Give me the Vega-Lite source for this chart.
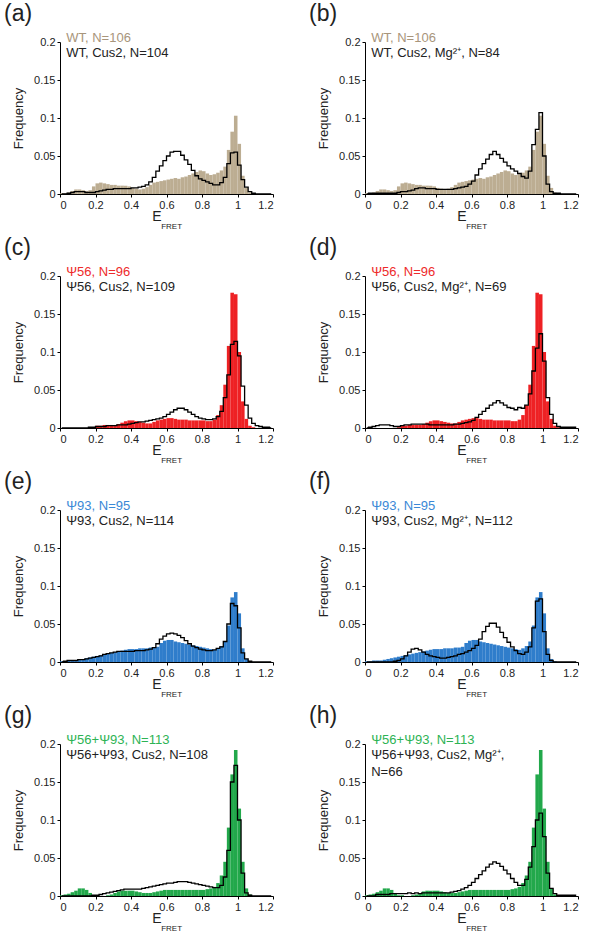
{
"$schema":"https://vega.github.io/schema/vega-lite/v6.json",
"padding":{"left":4,"top":3,"right":0,"bottom":0},
"spacing":{"row":6,"column":35},
"columns":2,
"datasets":{"h":[
{"lo":0,"hi":0.02,"c":0.01,"wt":0.001,"wtc":0,"wtm":0,"p56":0,"p56c":0,"p56m":0,"p93":0.001,"p93c":0,"p93m":0,"pp":0.001,"ppc":0,"ppm":0},
{"lo":0.02,"hi":0.04,"c":0.03,"wt":0.001,"wtc":0,"wtm":0.001,"p56":0,"p56c":0,"p56m":0.001,"p93":0.001,"p93c":0.001,"p93m":0,"pp":0.002,"ppc":0,"ppm":0},
{"lo":0.04,"hi":0.06,"c":0.05,"wt":0.002,"wtc":0.001,"wtm":0.001,"p56":0,"p56c":0,"p56m":0.002,"p93":0.002,"p93c":0.002,"p93m":0,"pp":0.003,"ppc":0,"ppm":0},
{"lo":0.06,"hi":0.08,"c":0.07,"wt":0.004,"wtc":0.002,"wtm":0.001,"p56":0,"p56c":0,"p56m":0.003,"p93":0.002,"p93c":0.002,"p93m":0,"pp":0.005,"ppc":0,"ppm":0.002},
{"lo":0.08,"hi":0.1,"c":0.09,"wt":0.006,"wtc":0.003,"wtm":0.001,"p56":0,"p56c":0,"p56m":0.004,"p93":0.002,"p93c":0.002,"p93m":0,"pp":0.007,"ppc":0,"ppm":0.002},
{"lo":0.1,"hi":0.12,"c":0.11,"wt":0.006,"wtc":0.003,"wtm":0.001,"p56":0,"p56c":0,"p56m":0.004,"p93":0.003,"p93c":0.003,"p93m":0,"pp":0.01,"ppc":0,"ppm":0.002},
{"lo":0.12,"hi":0.14,"c":0.13,"wt":0.005,"wtc":0.003,"wtm":0.001,"p56":0,"p56c":0,"p56m":0.004,"p93":0.004,"p93c":0.003,"p93m":0,"pp":0.01,"ppc":0,"ppm":0.002},
{"lo":0.14,"hi":0.16,"c":0.15,"wt":0.004,"wtc":0.002,"wtm":0.001,"p56":0,"p56c":0,"p56m":0.003,"p93":0.005,"p93c":0.004,"p93m":0,"pp":0.008,"ppc":0,"ppm":0.003},
{"lo":0.16,"hi":0.18,"c":0.17,"wt":0.005,"wtc":0.002,"wtm":0.001,"p56":0,"p56c":0.001,"p56m":0.002,"p93":0.006,"p93c":0.005,"p93m":0.001,"pp":0.004,"ppc":0,"ppm":0.003},
{"lo":0.18,"hi":0.2,"c":0.19,"wt":0.01,"wtc":0.002,"wtm":0.002,"p56":0.001,"p56c":0.001,"p56m":0.002,"p93":0.007,"p93c":0.006,"p93m":0.002,"pp":0.001,"ppc":0.001,"ppm":0.003},
{"lo":0.2,"hi":0.22,"c":0.21,"wt":0.014,"wtc":0.003,"wtm":0.003,"p56":0.003,"p56c":0.002,"p56m":0.003,"p93":0.008,"p93c":0.007,"p93m":0.004,"pp":0.001,"ppc":0.001,"ppm":0.003},
{"lo":0.22,"hi":0.24,"c":0.23,"wt":0.015,"wtc":0.004,"wtm":0.003,"p56":0.003,"p56c":0.002,"p56m":0.004,"p93":0.009,"p93c":0.008,"p93m":0.008,"pp":0,"ppc":0.002,"ppm":0.003},
{"lo":0.24,"hi":0.26,"c":0.25,"wt":0.014,"wtc":0.005,"wtm":0.004,"p56":0.004,"p56c":0.002,"p56m":0.004,"p93":0.01,"p93c":0.01,"p93m":0.013,"pp":0,"ppc":0.003,"ppm":0.004},
{"lo":0.26,"hi":0.28,"c":0.27,"wt":0.013,"wtc":0.006,"wtm":0.005,"p56":0.004,"p56c":0.003,"p56m":0.005,"p93":0.011,"p93c":0.011,"p93m":0.017,"pp":0.001,"ppc":0.004,"ppm":0.003},
{"lo":0.28,"hi":0.3,"c":0.29,"wt":0.012,"wtc":0.006,"wtm":0.007,"p56":0.004,"p56c":0.003,"p56m":0.005,"p93":0.012,"p93c":0.012,"p93m":0.018,"pp":0.002,"ppc":0.005,"ppm":0.004},
{"lo":0.3,"hi":0.32,"c":0.31,"wt":0.012,"wtc":0.007,"wtm":0.008,"p56":0.004,"p56c":0.003,"p56m":0.005,"p93":0.013,"p93c":0.013,"p93m":0.016,"pp":0.004,"ppc":0.006,"ppm":0.003},
{"lo":0.32,"hi":0.34,"c":0.33,"wt":0.011,"wtc":0.007,"wtm":0.008,"p56":0.005,"p56c":0.004,"p56m":0.005,"p93":0.014,"p93c":0.014,"p93m":0.013,"pp":0.006,"ppc":0.007,"ppm":0.004},
{"lo":0.34,"hi":0.36,"c":0.35,"wt":0.011,"wtc":0.007,"wtm":0.007,"p56":0.007,"p56c":0.004,"p56m":0.005,"p93":0.015,"p93c":0.014,"p93m":0.01,"pp":0.007,"ppc":0.008,"ppm":0.004},
{"lo":0.36,"hi":0.38,"c":0.37,"wt":0.011,"wtc":0.007,"wtm":0.007,"p56":0.009,"p56c":0.004,"p56m":0.004,"p93":0.016,"p93c":0.014,"p93m":0.008,"pp":0.007,"ppc":0.009,"ppm":0.004},
{"lo":0.38,"hi":0.4,"c":0.39,"wt":0.01,"wtc":0.007,"wtm":0.007,"p56":0.01,"p56c":0.005,"p56m":0.004,"p93":0.017,"p93c":0.014,"p93m":0.007,"pp":0.007,"ppc":0.009,"ppm":0.004},
{"lo":0.4,"hi":0.42,"c":0.41,"wt":0.008,"wtc":0.008,"wtm":0.006,"p56":0.01,"p56c":0.006,"p56m":0.004,"p93":0.017,"p93c":0.014,"p93m":0.006,"pp":0.007,"ppc":0.009,"ppm":0.004},
{"lo":0.42,"hi":0.44,"c":0.43,"wt":0.007,"wtc":0.008,"wtm":0.006,"p56":0.009,"p56c":0.007,"p56m":0.004,"p93":0.017,"p93c":0.015,"p93m":0.005,"pp":0.006,"ppc":0.009,"ppm":0.004},
{"lo":0.44,"hi":0.46,"c":0.45,"wt":0.006,"wtc":0.009,"wtm":0.006,"p56":0.008,"p56c":0.008,"p56m":0.004,"p93":0.018,"p93c":0.015,"p93m":0.005,"pp":0.005,"ppc":0.009,"ppm":0.004},
{"lo":0.46,"hi":0.48,"c":0.47,"wt":0.007,"wtc":0.01,"wtm":0.006,"p56":0.007,"p56c":0.008,"p56m":0.004,"p93":0.018,"p93c":0.015,"p93m":0.006,"pp":0.004,"ppc":0.01,"ppm":0.004},
{"lo":0.48,"hi":0.5,"c":0.49,"wt":0.009,"wtc":0.012,"wtm":0.006,"p56":0.006,"p56c":0.009,"p56m":0.004,"p93":0.018,"p93c":0.016,"p93m":0.007,"pp":0.004,"ppc":0.011,"ppm":0.005},
{"lo":0.5,"hi":0.52,"c":0.51,"wt":0.012,"wtc":0.016,"wtm":0.007,"p56":0.006,"p56c":0.01,"p56m":0.005,"p93":0.019,"p93c":0.017,"p93m":0.008,"pp":0.004,"ppc":0.012,"ppm":0.006},
{"lo":0.52,"hi":0.54,"c":0.53,"wt":0.015,"wtc":0.022,"wtm":0.008,"p56":0.008,"p56c":0.011,"p56m":0.005,"p93":0.019,"p93c":0.019,"p93m":0.01,"pp":0.005,"ppc":0.013,"ppm":0.007},
{"lo":0.54,"hi":0.56,"c":0.55,"wt":0.016,"wtc":0.03,"wtm":0.009,"p56":0.01,"p56c":0.012,"p56m":0.006,"p93":0.02,"p93c":0.024,"p93m":0.011,"pp":0.006,"ppc":0.014,"ppm":0.009},
{"lo":0.56,"hi":0.58,"c":0.57,"wt":0.017,"wtc":0.037,"wtm":0.01,"p56":0.011,"p56c":0.013,"p56m":0.007,"p93":0.025,"p93c":0.03,"p93m":0.013,"pp":0.007,"ppc":0.015,"ppm":0.011},
{"lo":0.58,"hi":0.6,"c":0.59,"wt":0.018,"wtc":0.044,"wtm":0.013,"p56":0.012,"p56c":0.015,"p56m":0.008,"p93":0.028,"p93c":0.034,"p93m":0.015,"pp":0.008,"ppc":0.016,"ppm":0.014},
{"lo":0.6,"hi":0.62,"c":0.61,"wt":0.019,"wtc":0.05,"wtm":0.017,"p56":0.013,"p56c":0.018,"p56m":0.01,"p93":0.029,"p93c":0.037,"p93m":0.018,"pp":0.008,"ppc":0.017,"ppm":0.018},
{"lo":0.62,"hi":0.64,"c":0.63,"wt":0.02,"wtc":0.055,"wtm":0.025,"p56":0.013,"p56c":0.021,"p56m":0.014,"p93":0.029,"p93c":0.038,"p93m":0.022,"pp":0.008,"ppc":0.017,"ppm":0.023},
{"lo":0.64,"hi":0.66,"c":0.65,"wt":0.021,"wtc":0.056,"wtm":0.033,"p56":0.012,"p56c":0.024,"p56m":0.018,"p93":0.027,"p93c":0.037,"p93m":0.03,"pp":0.008,"ppc":0.018,"ppm":0.028},
{"lo":0.66,"hi":0.68,"c":0.67,"wt":0.02,"wtc":0.056,"wtm":0.04,"p56":0.011,"p56c":0.026,"p56m":0.022,"p93":0.026,"p93c":0.035,"p93m":0.04,"pp":0.008,"ppc":0.019,"ppm":0.033},
{"lo":0.68,"hi":0.7,"c":0.69,"wt":0.022,"wtc":0.051,"wtm":0.046,"p56":0.011,"p56c":0.026,"p56m":0.026,"p93":0.025,"p93c":0.032,"p93m":0.047,"pp":0.008,"ppc":0.019,"ppm":0.038},
{"lo":0.7,"hi":0.72,"c":0.71,"wt":0.023,"wtc":0.045,"wtm":0.052,"p56":0.011,"p56c":0.024,"p56m":0.03,"p93":0.024,"p93c":0.028,"p93m":0.051,"pp":0.008,"ppc":0.019,"ppm":0.042},
{"lo":0.72,"hi":0.74,"c":0.73,"wt":0.025,"wtc":0.039,"wtm":0.056,"p56":0.01,"p56c":0.021,"p56m":0.033,"p93":0.023,"p93c":0.024,"p93m":0.051,"pp":0.008,"ppc":0.018,"ppm":0.045},
{"lo":0.74,"hi":0.76,"c":0.75,"wt":0.027,"wtc":0.031,"wtm":0.052,"p56":0.01,"p56c":0.018,"p56m":0.036,"p93":0.022,"p93c":0.021,"p93m":0.046,"pp":0.008,"ppc":0.017,"ppm":0.043},
{"lo":0.76,"hi":0.78,"c":0.77,"wt":0.029,"wtc":0.024,"wtm":0.047,"p56":0.01,"p56c":0.015,"p56m":0.033,"p93":0.021,"p93c":0.019,"p93m":0.039,"pp":0.008,"ppc":0.016,"ppm":0.039},
{"lo":0.78,"hi":0.8,"c":0.79,"wt":0.031,"wtc":0.02,"wtm":0.042,"p56":0.01,"p56c":0.013,"p56m":0.03,"p93":0.02,"p93c":0.017,"p93m":0.032,"pp":0.008,"ppc":0.015,"ppm":0.034},
{"lo":0.8,"hi":0.82,"c":0.81,"wt":0.03,"wtc":0.018,"wtm":0.037,"p56":0.01,"p56c":0.012,"p56m":0.027,"p93":0.019,"p93c":0.016,"p93m":0.026,"pp":0.008,"ppc":0.014,"ppm":0.029},
{"lo":0.82,"hi":0.84,"c":0.83,"wt":0.027,"wtc":0.016,"wtm":0.033,"p56":0.009,"p56c":0.011,"p56m":0.026,"p93":0.018,"p93c":0.015,"p93m":0.02,"pp":0.009,"ppc":0.013,"ppm":0.023},
{"lo":0.84,"hi":0.86,"c":0.85,"wt":0.025,"wtc":0.014,"wtm":0.03,"p56":0.009,"p56c":0.011,"p56m":0.024,"p93":0.017,"p93c":0.015,"p93m":0.015,"pp":0.01,"ppc":0.012,"ppm":0.018},
{"lo":0.86,"hi":0.88,"c":0.87,"wt":0.026,"wtc":0.012,"wtm":0.027,"p56":0.011,"p56c":0.012,"p56m":0.027,"p93":0.016,"p93c":0.016,"p93m":0.011,"pp":0.012,"ppc":0.011,"ppm":0.014},
{"lo":0.88,"hi":0.9,"c":0.89,"wt":0.028,"wtc":0.012,"wtm":0.023,"p56":0.017,"p56c":0.015,"p56m":0.026,"p93":0.018,"p93c":0.018,"p93m":0.01,"pp":0.017,"ppc":0.011,"ppm":0.014},
{"lo":0.9,"hi":0.92,"c":0.91,"wt":0.031,"wtc":0.015,"wtm":0.021,"p56":0.03,"p56c":0.022,"p56m":0.03,"p93":0.021,"p93c":0.02,"p93m":0.013,"pp":0.027,"ppc":0.014,"ppm":0.022},
{"lo":0.92,"hi":0.94,"c":0.93,"wt":0.036,"wtc":0.022,"wtm":0.03,"p56":0.057,"p56c":0.04,"p56m":0.045,"p93":0.027,"p93c":0.027,"p93m":0.02,"pp":0.045,"ppc":0.025,"ppm":0.038},
{"lo":0.94,"hi":0.96,"c":0.95,"wt":0.058,"wtc":0.04,"wtm":0.065,"p56":0.108,"p56c":0.07,"p56m":0.075,"p93":0.048,"p93c":0.05,"p93m":0.045,"pp":0.09,"ppc":0.06,"ppm":0.065},
{"lo":0.96,"hi":0.98,"c":0.97,"wt":0.082,"wtc":0.054,"wtm":0.085,"p56":0.178,"p56c":0.11,"p56m":0.105,"p93":0.085,"p93c":0.077,"p93m":0.08,"pp":0.16,"ppc":0.15,"ppm":0.1},
{"lo":0.98,"hi":1,"c":0.99,"wt":0.103,"wtc":0.055,"wtm":0.107,"p56":0.176,"p56c":0.114,"p56m":0.124,"p93":0.092,"p93c":0.074,"p93m":0.083,"pp":0.192,"ppc":0.172,"ppm":0.109},
{"lo":1,"hi":1.02,"c":1.01,"wt":0.066,"wtc":0.038,"wtm":0.05,"p56":0.1,"p56c":0.095,"p56m":0.088,"p93":0.064,"p93c":0.045,"p93m":0.04,"pp":0.115,"ppc":0.1,"ppm":0.078},
{"lo":1.02,"hi":1.04,"c":1.03,"wt":0.024,"wtc":0.019,"wtm":0.013,"p56":0.035,"p56c":0.055,"p56m":0.04,"p93":0.018,"p93c":0.012,"p93m":0.01,"pp":0.045,"ppc":0.03,"ppm":0.03},
{"lo":1.04,"hi":1.06,"c":1.05,"wt":0.008,"wtc":0.009,"wtm":0.003,"p56":0.012,"p56c":0.03,"p56m":0.018,"p93":0.004,"p93c":0.004,"p93m":0.002,"pp":0.01,"ppc":0.004,"ppm":0.01},
{"lo":1.06,"hi":1.08,"c":1.07,"wt":0.002,"wtc":0.003,"wtm":0.001,"p56":0.003,"p56c":0.013,"p56m":0.006,"p93":0.001,"p93c":0.001,"p93m":0,"pp":0.002,"ppc":0.001,"ppm":0.003},
{"lo":1.08,"hi":1.1,"c":1.09,"wt":0.001,"wtc":0.001,"wtm":0.001,"p56":0.001,"p56c":0.006,"p56m":0.002,"p93":0,"p93c":0,"p93m":0,"pp":0,"ppc":0,"ppm":0.001},
{"lo":1.1,"hi":1.12,"c":1.11,"wt":0,"wtc":0,"wtm":0,"p56":0,"p56c":0.003,"p56m":0.001,"p93":0,"p93c":0,"p93m":0,"pp":0,"ppc":0,"ppm":0.001},
{"lo":1.12,"hi":1.14,"c":1.13,"wt":0,"wtc":0,"wtm":0,"p56":0,"p56c":0.002,"p56m":0.001,"p93":0,"p93c":0,"p93m":0,"pp":0,"ppc":0,"ppm":0.001},
{"lo":1.14,"hi":1.16,"c":1.15,"wt":0,"wtc":0,"wtm":0,"p56":0,"p56c":0.001,"p56m":0.001,"p93":0,"p93c":0,"p93m":0,"pp":0,"ppc":0,"ppm":0.001},
{"lo":1.16,"hi":1.18,"c":1.17,"wt":0,"wtc":0,"wtm":0,"p56":0,"p56c":0.001,"p56m":0.001,"p93":0,"p93c":0,"p93m":0,"pp":0,"ppc":0,"ppm":0.001},
{"lo":1.18,"hi":1.2,"c":1.19,"wt":0,"wtc":0,"wtm":0,"p56":0,"p56c":0,"p56m":0.001,"p93":0,"p93c":0,"p93m":0,"pp":0,"ppc":0,"ppm":0.001}
]},
"concat":[
{"title":"(a)","width":213,"height":152,"layer":[
 {"data":{"name":"h"},"mark":{"type":"bar","color":"#bcad92"},"encoding":{"x":{"field":"lo","type":"quantitative","title":null,"scale":{"domain":[0,1.2],"nice":false},"axis":{"values":[0,0.2,0.4,0.6,0.8,1,1.2],"format":"~g","labelOverlap":false,"tickCount":7}},"x2":{"field":"hi"},"y":{"field":"wt","type":"quantitative","title":"Frequency","scale":{"domain":[0,0.2],"nice":false},"axis":{"values":[0,0.05,0.1,0.15,0.2],"format":"~g","labelOverlap":false,"tickCount":5}},"y2":{"datum":0}}},
 {"data":{"name":"h"},"mark":{"type":"line","color":"#000","strokeWidth":1.3,"interpolate":"step"},"encoding":{"x":{"field":"c","type":"quantitative","title":null},"y":{"field":"wtc","type":"quantitative","title":"Frequency"}}},
 {"data":{"values":[{"t":"WT, N=106"}]},"mark":{"type":"text","color":"#a8957b"},"encoding":{"x":{"datum":0.035},"y":{"datum":0.2},"text":{"field":"t"}}},
 {"data":{"values":[{"t":"WT, Cus2, N=104"}]},"mark":{"type":"text"},"encoding":{"x":{"datum":0.035},"y":{"datum":0.18},"text":{"field":"t"}}},
 {"data":{"values":[{"t":"E"}]},"mark":{"type":"text","fontSize":14,"align":"center"},"encoding":{"x":{"datum":0.546},"y":{"datum":-0.035},"text":{"field":"t"}}},
 {"data":{"values":[{"t":"FRET"}]},"mark":{"type":"text","fontSize":8},"encoding":{"x":{"datum":0.57},"y":{"datum":-0.046},"text":{"field":"t"}}}
]},
{"title":"(b)","width":213,"height":152,"layer":[
 {"data":{"name":"h"},"mark":{"type":"bar","color":"#bcad92"},"encoding":{"x":{"field":"lo","type":"quantitative","title":null,"scale":{"domain":[0,1.2],"nice":false},"axis":{"values":[0,0.2,0.4,0.6,0.8,1,1.2],"format":"~g","labelOverlap":false,"tickCount":7}},"x2":{"field":"hi"},"y":{"field":"wt","type":"quantitative","title":"Frequency","scale":{"domain":[0,0.2],"nice":false},"axis":{"values":[0,0.05,0.1,0.15,0.2],"format":"~g","labelOverlap":false,"tickCount":5}},"y2":{"datum":0}}},
 {"data":{"name":"h"},"mark":{"type":"line","color":"#000","strokeWidth":1.3,"interpolate":"step"},"encoding":{"x":{"field":"c","type":"quantitative","title":null},"y":{"field":"wtm","type":"quantitative","title":"Frequency"}}},
 {"data":{"values":[{"t":"WT, N=106"}]},"mark":{"type":"text","color":"#a8957b"},"encoding":{"x":{"datum":0.035},"y":{"datum":0.2},"text":{"field":"t"}}},
 {"data":{"values":[{"t":"WT, Cus2, Mg²⁺, N=84"}]},"mark":{"type":"text"},"encoding":{"x":{"datum":0.035},"y":{"datum":0.18},"text":{"field":"t"}}},
 {"data":{"values":[{"t":"E"}]},"mark":{"type":"text","fontSize":14,"align":"center"},"encoding":{"x":{"datum":0.546},"y":{"datum":-0.035},"text":{"field":"t"}}},
 {"data":{"values":[{"t":"FRET"}]},"mark":{"type":"text","fontSize":8},"encoding":{"x":{"datum":0.57},"y":{"datum":-0.046},"text":{"field":"t"}}}
]},
{"title":"(c)","width":213,"height":152,"layer":[
 {"data":{"name":"h"},"mark":{"type":"bar","color":"#ee2124"},"encoding":{"x":{"field":"lo","type":"quantitative","title":null,"scale":{"domain":[0,1.2],"nice":false},"axis":{"values":[0,0.2,0.4,0.6,0.8,1,1.2],"format":"~g","labelOverlap":false,"tickCount":7}},"x2":{"field":"hi"},"y":{"field":"p56","type":"quantitative","title":"Frequency","scale":{"domain":[0,0.2],"nice":false},"axis":{"values":[0,0.05,0.1,0.15,0.2],"format":"~g","labelOverlap":false,"tickCount":5}},"y2":{"datum":0}}},
 {"data":{"name":"h"},"mark":{"type":"line","color":"#000","strokeWidth":1.3,"interpolate":"step"},"encoding":{"x":{"field":"c","type":"quantitative","title":null},"y":{"field":"p56c","type":"quantitative","title":"Frequency"}}},
 {"data":{"values":[{"t":"Ψ56, N=96"}]},"mark":{"type":"text","color":"#ee2a2a"},"encoding":{"x":{"datum":0.035},"y":{"datum":0.2},"text":{"field":"t"}}},
 {"data":{"values":[{"t":"Ψ56, Cus2, N=109"}]},"mark":{"type":"text"},"encoding":{"x":{"datum":0.035},"y":{"datum":0.18},"text":{"field":"t"}}},
 {"data":{"values":[{"t":"E"}]},"mark":{"type":"text","fontSize":14,"align":"center"},"encoding":{"x":{"datum":0.546},"y":{"datum":-0.035},"text":{"field":"t"}}},
 {"data":{"values":[{"t":"FRET"}]},"mark":{"type":"text","fontSize":8},"encoding":{"x":{"datum":0.57},"y":{"datum":-0.046},"text":{"field":"t"}}}
]},
{"title":"(d)","width":213,"height":152,"layer":[
 {"data":{"name":"h"},"mark":{"type":"bar","color":"#ee2124"},"encoding":{"x":{"field":"lo","type":"quantitative","title":null,"scale":{"domain":[0,1.2],"nice":false},"axis":{"values":[0,0.2,0.4,0.6,0.8,1,1.2],"format":"~g","labelOverlap":false,"tickCount":7}},"x2":{"field":"hi"},"y":{"field":"p56","type":"quantitative","title":"Frequency","scale":{"domain":[0,0.2],"nice":false},"axis":{"values":[0,0.05,0.1,0.15,0.2],"format":"~g","labelOverlap":false,"tickCount":5}},"y2":{"datum":0}}},
 {"data":{"name":"h"},"mark":{"type":"line","color":"#000","strokeWidth":1.3,"interpolate":"step"},"encoding":{"x":{"field":"c","type":"quantitative","title":null},"y":{"field":"p56m","type":"quantitative","title":"Frequency"}}},
 {"data":{"values":[{"t":"Ψ56, N=96"}]},"mark":{"type":"text","color":"#ee2a2a"},"encoding":{"x":{"datum":0.035},"y":{"datum":0.2},"text":{"field":"t"}}},
 {"data":{"values":[{"t":"Ψ56, Cus2, Mg²⁺, N=69"}]},"mark":{"type":"text"},"encoding":{"x":{"datum":0.035},"y":{"datum":0.18},"text":{"field":"t"}}},
 {"data":{"values":[{"t":"E"}]},"mark":{"type":"text","fontSize":14,"align":"center"},"encoding":{"x":{"datum":0.546},"y":{"datum":-0.035},"text":{"field":"t"}}},
 {"data":{"values":[{"t":"FRET"}]},"mark":{"type":"text","fontSize":8},"encoding":{"x":{"datum":0.57},"y":{"datum":-0.046},"text":{"field":"t"}}}
]},
{"title":"(e)","width":213,"height":152,"layer":[
 {"data":{"name":"h"},"mark":{"type":"bar","color":"#2f7dcb"},"encoding":{"x":{"field":"lo","type":"quantitative","title":null,"scale":{"domain":[0,1.2],"nice":false},"axis":{"values":[0,0.2,0.4,0.6,0.8,1,1.2],"format":"~g","labelOverlap":false,"tickCount":7}},"x2":{"field":"hi"},"y":{"field":"p93","type":"quantitative","title":"Frequency","scale":{"domain":[0,0.2],"nice":false},"axis":{"values":[0,0.05,0.1,0.15,0.2],"format":"~g","labelOverlap":false,"tickCount":5}},"y2":{"datum":0}}},
 {"data":{"name":"h"},"mark":{"type":"line","color":"#000","strokeWidth":1.3,"interpolate":"step"},"encoding":{"x":{"field":"c","type":"quantitative","title":null},"y":{"field":"p93c","type":"quantitative","title":"Frequency"}}},
 {"data":{"values":[{"t":"Ψ93, N=95"}]},"mark":{"type":"text","color":"#3a88d6"},"encoding":{"x":{"datum":0.035},"y":{"datum":0.2},"text":{"field":"t"}}},
 {"data":{"values":[{"t":"Ψ93, Cus2, N=114"}]},"mark":{"type":"text"},"encoding":{"x":{"datum":0.035},"y":{"datum":0.18},"text":{"field":"t"}}},
 {"data":{"values":[{"t":"E"}]},"mark":{"type":"text","fontSize":14,"align":"center"},"encoding":{"x":{"datum":0.546},"y":{"datum":-0.035},"text":{"field":"t"}}},
 {"data":{"values":[{"t":"FRET"}]},"mark":{"type":"text","fontSize":8},"encoding":{"x":{"datum":0.57},"y":{"datum":-0.046},"text":{"field":"t"}}}
]},
{"title":"(f)","width":213,"height":152,"layer":[
 {"data":{"name":"h"},"mark":{"type":"bar","color":"#2f7dcb"},"encoding":{"x":{"field":"lo","type":"quantitative","title":null,"scale":{"domain":[0,1.2],"nice":false},"axis":{"values":[0,0.2,0.4,0.6,0.8,1,1.2],"format":"~g","labelOverlap":false,"tickCount":7}},"x2":{"field":"hi"},"y":{"field":"p93","type":"quantitative","title":"Frequency","scale":{"domain":[0,0.2],"nice":false},"axis":{"values":[0,0.05,0.1,0.15,0.2],"format":"~g","labelOverlap":false,"tickCount":5}},"y2":{"datum":0}}},
 {"data":{"name":"h"},"mark":{"type":"line","color":"#000","strokeWidth":1.3,"interpolate":"step"},"encoding":{"x":{"field":"c","type":"quantitative","title":null},"y":{"field":"p93m","type":"quantitative","title":"Frequency"}}},
 {"data":{"values":[{"t":"Ψ93, N=95"}]},"mark":{"type":"text","color":"#3a88d6"},"encoding":{"x":{"datum":0.035},"y":{"datum":0.2},"text":{"field":"t"}}},
 {"data":{"values":[{"t":"Ψ93, Cus2, Mg²⁺, N=112"}]},"mark":{"type":"text"},"encoding":{"x":{"datum":0.035},"y":{"datum":0.18},"text":{"field":"t"}}},
 {"data":{"values":[{"t":"E"}]},"mark":{"type":"text","fontSize":14,"align":"center"},"encoding":{"x":{"datum":0.546},"y":{"datum":-0.035},"text":{"field":"t"}}},
 {"data":{"values":[{"t":"FRET"}]},"mark":{"type":"text","fontSize":8},"encoding":{"x":{"datum":0.57},"y":{"datum":-0.046},"text":{"field":"t"}}}
]},
{"title":"(g)","width":213,"height":152,"layer":[
 {"data":{"name":"h"},"mark":{"type":"bar","color":"#22a84b"},"encoding":{"x":{"field":"lo","type":"quantitative","title":null,"scale":{"domain":[0,1.2],"nice":false},"axis":{"values":[0,0.2,0.4,0.6,0.8,1,1.2],"format":"~g","labelOverlap":false,"tickCount":7}},"x2":{"field":"hi"},"y":{"field":"pp","type":"quantitative","title":"Frequency","scale":{"domain":[0,0.2],"nice":false},"axis":{"values":[0,0.05,0.1,0.15,0.2],"format":"~g","labelOverlap":false,"tickCount":5}},"y2":{"datum":0}}},
 {"data":{"name":"h"},"mark":{"type":"line","color":"#000","strokeWidth":1.3,"interpolate":"step"},"encoding":{"x":{"field":"c","type":"quantitative","title":null},"y":{"field":"ppc","type":"quantitative","title":"Frequency"}}},
 {"data":{"values":[{"t":"Ψ56+Ψ93, N=113"}]},"mark":{"type":"text","color":"#2db354"},"encoding":{"x":{"datum":0.035},"y":{"datum":0.2},"text":{"field":"t"}}},
 {"data":{"values":[{"t":"Ψ56+Ψ93, Cus2, N=108"}]},"mark":{"type":"text"},"encoding":{"x":{"datum":0.035},"y":{"datum":0.18},"text":{"field":"t"}}},
 {"data":{"values":[{"t":"E"}]},"mark":{"type":"text","fontSize":14,"align":"center"},"encoding":{"x":{"datum":0.546},"y":{"datum":-0.035},"text":{"field":"t"}}},
 {"data":{"values":[{"t":"FRET"}]},"mark":{"type":"text","fontSize":8},"encoding":{"x":{"datum":0.57},"y":{"datum":-0.046},"text":{"field":"t"}}}
]},
{"title":"(h)","width":213,"height":152,"layer":[
 {"data":{"name":"h"},"mark":{"type":"bar","color":"#22a84b"},"encoding":{"x":{"field":"lo","type":"quantitative","title":null,"scale":{"domain":[0,1.2],"nice":false},"axis":{"values":[0,0.2,0.4,0.6,0.8,1,1.2],"format":"~g","labelOverlap":false,"tickCount":7}},"x2":{"field":"hi"},"y":{"field":"pp","type":"quantitative","title":"Frequency","scale":{"domain":[0,0.2],"nice":false},"axis":{"values":[0,0.05,0.1,0.15,0.2],"format":"~g","labelOverlap":false,"tickCount":5}},"y2":{"datum":0}}},
 {"data":{"name":"h"},"mark":{"type":"line","color":"#000","strokeWidth":1.3,"interpolate":"step"},"encoding":{"x":{"field":"c","type":"quantitative","title":null},"y":{"field":"ppm","type":"quantitative","title":"Frequency"}}},
 {"data":{"values":[{"t":"Ψ56+Ψ93, N=113"}]},"mark":{"type":"text","color":"#2db354"},"encoding":{"x":{"datum":0.035},"y":{"datum":0.2},"text":{"field":"t"}}},
 {"data":{"values":[{"t":"Ψ56+Ψ93, Cus2, Mg²⁺,"}]},"mark":{"type":"text"},"encoding":{"x":{"datum":0.035},"y":{"datum":0.18},"text":{"field":"t"}}},
 {"data":{"values":[{"t":"N=66"}]},"mark":{"type":"text"},"encoding":{"x":{"datum":0.035},"y":{"datum":0.158},"text":{"field":"t"}}},
 {"data":{"values":[{"t":"E"}]},"mark":{"type":"text","fontSize":14,"align":"center"},"encoding":{"x":{"datum":0.546},"y":{"datum":-0.035},"text":{"field":"t"}}},
 {"data":{"values":[{"t":"FRET"}]},"mark":{"type":"text","fontSize":8},"encoding":{"x":{"datum":0.57},"y":{"datum":-0.046},"text":{"field":"t"}}}
]}
],
"config":{
 "font":"Liberation Sans",
 "view":{"stroke":null},
 "axis":{"grid":false,"domainColor":"#000","tickColor":"#000","tickSize":3,"labelFontSize":11,"labelColor":"#222","labelPadding":2,"labelOverlap":false,"labelBound":false,"titleFontSize":13,"titleFontWeight":"normal","titleColor":"#222","titlePadding":8,"labelFont":"Liberation Sans","titleFont":"Liberation Sans"},
 "title":{"fontSize":23,"fontWeight":"normal","anchor":"start","frame":"group","dx":-56,"offset":6,"color":"#222","font":"Liberation Sans"},
 "text":{"fontSize":13,"align":"left","baseline":"alphabetic","color":"#222","font":"Liberation Sans"}
}
}
